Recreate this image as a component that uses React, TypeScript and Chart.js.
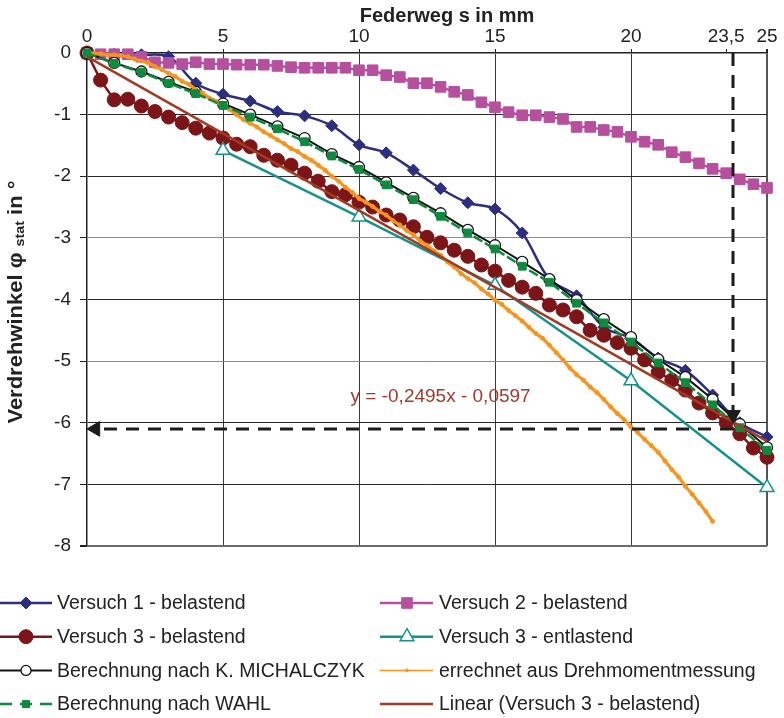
import React, { useEffect, useRef } from 'react';
import { Chart, registerables } from 'chart.js';
Chart.register(...registerables);

const FONT = "'Liberation Sans', Arial, Helvetica, sans-serif";

// ---------- categories / x positions (Federweg s in mm) ----------
const sStep1 = [0, 1, 2, 3, 4, 5, 6, 7, 8, 9, 10, 11, 12, 13, 14, 15, 16, 17, 18, 19, 20, 21, 22, 23, 24, 25];
const sStep05 = [0, 0.5, 1, 1.5, 2, 2.5, 3, 3.5, 4, 4.5, 5, 5.5, 6, 6.5, 7, 7.5, 8, 8.5, 9, 9.5, 10, 10.5, 11, 11.5, 12, 12.5,
  13, 13.5, 14, 14.5, 15, 15.5, 16, 16.5, 17, 17.5, 18, 18.5, 19, 19.5, 20, 20.5, 21, 21.5, 22, 22.5, 23, 23.5, 24, 24.5, 25];
const sUnload = [5, 10, 15, 20, 25];
const sTorque = [0, 0.25, 0.5, 0.75, 1, 1.25, 1.5, 1.75, 2, 2.25, 2.5, 2.75, 3, 3.25, 3.5, 3.75, 4, 4.25, 4.5, 4.75,
  5, 5.25, 5.5, 5.75, 6, 6.25, 6.5, 6.75, 7, 7.25, 7.5, 7.75, 8, 8.25, 8.5, 8.75, 9, 9.25, 9.5, 9.75,
  10, 10.25, 10.5, 10.75, 11, 11.25, 11.5, 11.75, 12, 12.25, 12.5, 12.75, 13, 13.25, 13.5, 13.75, 14, 14.25, 14.5, 14.75,
  15, 15.25, 15.5, 15.75, 16, 16.25, 16.5, 16.75, 17, 17.25, 17.5, 17.75, 18, 18.25, 18.5, 18.75, 19, 19.25, 19.5, 19.75,
  20, 20.25, 20.5, 20.75, 21, 21.25, 21.5, 21.75, 22, 22.25, 22.5, 22.75, 23];
const sTrend = [0, 25];

// ---------- tick labels ----------
const xTickValues = [0, 5, 10, 15, 20, 23.5, 25];
const yTickValues = [0, -1, -2, -3, -4, -5, -6, -7, -8];

// ---------- series values (Verdrehwinkel in °) ----------
const versuch1 = [0, -0.02, -0.03, -0.06, -0.49, -0.67, -0.78, -0.95, -1.02, -1.18, -1.49, -1.62, -1.9, -2.2, -2.43, -2.53,
  -2.92, -3.67, -3.94, -4.45, -4.63, -4.95, -5.15, -5.55, -6.0, -6.23];
const versuch2 = [0, -0.02, -0.02, -0.02, -0.06, -0.15, -0.16, -0.18, -0.15, -0.18, -0.18, -0.19, -0.19, -0.19, -0.21, -0.23,
  -0.24, -0.24, -0.24, -0.24, -0.28, -0.28, -0.36, -0.39, -0.49, -0.49, -0.55, -0.63, -0.68, -0.8, -0.88, -0.96, -1.01, -1.01,
  -1.04, -1.07, -1.2, -1.2, -1.25, -1.28, -1.36, -1.44, -1.49, -1.61, -1.69, -1.79, -1.88, -1.95, -2.05, -2.13, -2.19];
const versuch3Load = [0, -0.44, -0.76, -0.75, -0.86, -0.95, -1.04, -1.13, -1.22, -1.3, -1.38, -1.48, -1.52, -1.66, -1.74, -1.82,
  -1.95, -2.08, -2.25, -2.3, -2.42, -2.5, -2.63, -2.71, -2.82, -2.99, -3.08, -3.2, -3.3, -3.44, -3.54, -3.69, -3.8, -3.9,
  -4.09, -4.17, -4.28, -4.5, -4.58, -4.7, -4.79, -4.98, -5.18, -5.31, -5.47, -5.68, -5.84, -6.0, -6.18, -6.41, -6.56];
const versuch3Unload = [-1.58, -2.66, -3.77, -5.32, -7.05];
const michalczyk = [0, -0.16, -0.3, -0.47, -0.63, -0.82, -1.0, -1.19, -1.38, -1.64, -1.85, -2.1, -2.35, -2.6, -2.87, -3.12,
  -3.39, -3.67, -4.01, -4.32, -4.61, -4.97, -5.26, -5.62, -6.02, -6.4];
const torque = [0, -0.01, -0.01, -0.03, -0.03, -0.04, -0.06, -0.1, -0.13, -0.16, -0.22, -0.27, -0.33, -0.38, -0.46, -0.51,
  -0.59, -0.65, -0.73, -0.79, -0.87, -0.92, -1.0, -1.08, -1.14, -1.2, -1.28, -1.34, -1.41, -1.47, -1.55, -1.6, -1.68, -1.74,
  -1.82, -1.9, -2.0, -2.08, -2.18, -2.26, -2.36, -2.42, -2.49, -2.57, -2.63, -2.72, -2.79, -2.88, -2.95, -3.05, -3.12, -3.21,
  -3.28, -3.39, -3.47, -3.58, -3.66, -3.73, -3.83, -3.91, -4.01, -4.08, -4.18, -4.26, -4.35, -4.45, -4.55, -4.63, -4.74,
  -4.86, -4.98, -5.11, -5.22, -5.31, -5.42, -5.51, -5.62, -5.74, -5.85, -5.95, -6.07, -6.16, -6.27, -6.37, -6.48, -6.62,
  -6.76, -6.88, -7.03, -7.16, -7.3, -7.44, -7.6];
const wahl = [0, -0.17, -0.31, -0.49, -0.66, -0.85, -1.04, -1.23, -1.44, -1.67, -1.89, -2.14, -2.38, -2.65, -2.92, -3.18,
  -3.46, -3.72, -4.06, -4.38, -4.69, -5.03, -5.35, -5.71, -6.08, -6.45];
const trendSlope = -0.2495;
const trendIntercept = -0.0597;

// annotation (dashed guide lines with arrows)
const guideX = [23.75, 0.31];
const guideHY = [-6.1, -6.1];
const guideVX = [23.75, 23.75];
const guideVY = [0, -5.87];

const seriesNames = [
  'Versuch 1 - belastend',
  'Versuch 2 - belastend',
  'Versuch 3 - belastend',
  'Versuch 3 - entlastend',
  'Berechnung nach K. MICHALCZYK',
  'errechnet aus Drehmomentmessung',
  'Berechnung nach WAHL',
  'Linear (Versuch 3 - belastend)',
];
const equationText = 'y = -0,2495x - 0,0597';

const pts = (xs: number[], ys: number[]) => xs.map((x, i) => ({ x, y: ys[i] }));

function drawMarker(ctx: CanvasRenderingContext2D, style: string, x: number, y: number, r: number, fill: string, stroke: string, lw: number) {
  if (!style || r <= 0) return;
  ctx.save();
  ctx.setLineDash([]);
  ctx.beginPath();
  if (style === 'circle') {
    ctx.arc(x, y, r, 0, Math.PI * 2);
  } else if (style === 'rect') {
    const s = r * Math.SQRT1_2;
    ctx.rect(x - s, y - s, 2 * s, 2 * s);
  } else if (style === 'rectRot') {
    ctx.moveTo(x, y - r); ctx.lineTo(x + r, y); ctx.lineTo(x, y + r); ctx.lineTo(x - r, y); ctx.closePath();
  } else if (style === 'triangle') {
    let a = 0;
    ctx.moveTo(x + Math.sin(a) * r, y - Math.cos(a) * r);
    a += (2 * Math.PI) / 3;
    ctx.lineTo(x + Math.sin(a) * r, y - Math.cos(a) * r);
    a += (2 * Math.PI) / 3;
    ctx.lineTo(x + Math.sin(a) * r, y - Math.cos(a) * r);
    ctx.closePath();
  }
  ctx.fillStyle = fill;
  ctx.fill();
  ctx.lineWidth = lw;
  ctx.strokeStyle = stroke;
  ctx.stroke();
  ctx.restore();
}

const legendMarkerSize = [6, 7.5, 7, 8, 5, 1.5, 5, 0];
const legendLineWidth = [2.5, 2.5, 2.5, 2.5, 2, 1.5, 2.5, 2.5];

const extrasPlugin = {
  id: 'extras',
  afterDatasetsDraw(chart: any) {
    const ctx: CanvasRenderingContext2D = chart.ctx;
    const xs = chart.scales.x;
    const ys = chart.scales.y;
    ctx.save();
    ctx.font = '19px ' + FONT;
    ctx.fillStyle = '#A3392B';
    ctx.textAlign = 'center';
    ctx.textBaseline = 'middle';
    ctx.fillText(equationText, xs.getPixelForValue(13.0), ys.getPixelForValue(-5.58));
    ctx.restore();
  },
  afterDraw(chart: any) {
    const ctx: CanvasRenderingContext2D = chart.ctx;
    ctx.save();
    ctx.font = 'bold 20px ' + FONT;
    ctx.fillStyle = '#222';
    ctx.textAlign = 'center';
    ctx.textBaseline = 'middle';
    ctx.fillText('Federweg s in mm', 447, 16);
    ctx.restore();

    ctx.save();
    ctx.translate(16, 302);
    ctx.rotate(-Math.PI / 2);
    ctx.scale(1.1, 1);
    const main = 'bold 20px ' + FONT;
    const sub = 'bold 13px ' + FONT;
    const p1 = 'Verdrehwinkel φ ';
    const p2 = 'stat';
    const p3 = ' in °';
    ctx.font = main;
    const w1 = ctx.measureText(p1).width;
    const w3 = ctx.measureText(p3).width;
    ctx.font = sub;
    const w2 = ctx.measureText(p2).width;
    let x = -(w1 + w2 + w3) / 2;
    ctx.textBaseline = 'middle';
    ctx.fillStyle = '#222';
    ctx.font = main; ctx.fillText(p1, x, 0); x += w1;
    ctx.font = sub; ctx.fillText(p2, x, 4); x += w2;
    ctx.font = main; ctx.fillText(p3, x, 0);
    ctx.restore();

    const cols = [
      { l0: 0, l1: 52, m: 26, t: 57 },
      { l0: 380, l1: 433, m: 407, t: 439 },
    ];
    for (let i = 0; i < seriesNames.length; i++) {
      const ds = chart.data.datasets[i];
      const c = cols[i % 2];
      const y = 603 + Math.floor(i / 2) * 33.7;
      ctx.save();
      ctx.strokeStyle = ds.borderColor;
      ctx.lineWidth = legendLineWidth[i];
      ctx.setLineDash(ds.borderDash ? [12, 8] : []);
      ctx.beginPath();
      ctx.moveTo(c.l0, y);
      ctx.lineTo(c.l1, y);
      ctx.stroke();
      ctx.restore();
      drawMarker(ctx, ds.pointStyle, c.m, y, legendMarkerSize[i], ds.pointBackgroundColor, ds.pointBorderColor, ds.pointBorderWidth);
      ctx.save();
      ctx.font = '19.5px ' + FONT;
      ctx.fillStyle = '#222';
      ctx.textBaseline = 'middle';
      ctx.fillText(ds.label, c.t, y + 1);
      ctx.restore();
    }
  },
};

export default function App() {
  const ref = useRef<HTMLCanvasElement | null>(null);
  useEffect(() => {
    if (!ref.current) return;
    const navy = '#2C2F80';
    const magenta = '#B6509E';
    const red = '#7C1518';
    const teal = '#16918B';
    const black = '#141414';
    const orange = '#F7941D';
    const green = '#0D8A3E';
    const brown = '#A23A24';
    const guide = '#1c1c1c';

    const datasets: any[] = [
      {
        label: seriesNames[0], data: pts(sStep1, versuch1), borderColor: navy, borderWidth: 2.5, tension: 0.35,
        pointStyle: 'rectRot', pointRadius: 6, pointBackgroundColor: navy, pointBorderColor: navy, pointBorderWidth: 1,
      },
      {
        label: seriesNames[1], data: pts(sStep05, versuch2), borderColor: magenta, borderWidth: 2.5,
        pointStyle: 'rect', pointRadius: 7.5, pointBackgroundColor: magenta, pointBorderColor: magenta, pointBorderWidth: 1,
      },
      {
        label: seriesNames[2], data: pts(sStep05, versuch3Load), borderColor: red, borderWidth: 2.5,
        pointStyle: 'circle', pointRadius: 7, pointBackgroundColor: red, pointBorderColor: red, pointBorderWidth: 1,
      },
      {
        label: seriesNames[3], data: pts(sUnload, versuch3Unload), borderColor: teal, borderWidth: 2.5,
        pointStyle: 'triangle', pointRadius: 8, pointBackgroundColor: '#ffffff', pointBorderColor: teal, pointBorderWidth: 1.5,
      },
      {
        label: seriesNames[4], data: pts(sStep1, michalczyk), borderColor: black, borderWidth: 2,
        pointStyle: 'circle', pointRadius: 5.5, pointBackgroundColor: '#ffffff', pointBorderColor: black, pointBorderWidth: 1.3,
      },
      {
        label: seriesNames[5], data: pts(sTorque, torque), borderColor: orange, borderWidth: 3.2,
        pointStyle: 'circle', pointRadius: 2, pointBackgroundColor: orange, pointBorderColor: orange, pointBorderWidth: 1,
      },
      {
        label: seriesNames[6], data: pts(sStep1, wahl), borderColor: green, borderWidth: 2.5, borderDash: [10, 3],
        pointStyle: 'rect', pointRadius: 5.5, pointBackgroundColor: green, pointBorderColor: green, pointBorderWidth: 1,
      },
      {
        label: seriesNames[7], data: pts(sTrend, sTrend.map((x) => trendSlope * x + trendIntercept)), borderColor: brown,
        borderWidth: 2.5, pointRadius: 0, pointStyle: false, pointBackgroundColor: brown, pointBorderColor: brown, pointBorderWidth: 0,
      },
      {
        label: 'guideH', data: pts(guideX, guideHY), borderColor: guide, borderWidth: 3, borderDash: [13, 9],
        pointStyle: 'triangle', pointRadius: [0, 8.5], pointRotation: 270, pointBackgroundColor: guide, pointBorderColor: guide, pointBorderWidth: 1,
      },
      {
        label: 'guideV', data: pts(guideVX, guideVY), borderColor: guide, borderWidth: 3, borderDash: [13, 9],
        pointStyle: 'triangle', pointRadius: [0, 8.5], pointRotation: 180, pointBackgroundColor: guide, pointBorderColor: guide, pointBorderWidth: 1,
      },
    ];
    datasets.forEach((d, i) => {
      d.order = 20 - i;
      d.clip = 14;
      d.fill = false;
      if (d.tension === undefined) d.tension = 0;
      d.pointHoverRadius = d.pointRadius;
    });

    const chart = new Chart(ref.current, {
      type: 'line',
      data: { datasets },
      options: {
        animation: false,
        responsive: false,
        devicePixelRatio: 1,
        events: [],
        layout: { padding: { left: 0, top: 0, right: 17, bottom: 172 } },
        plugins: { legend: { display: false }, tooltip: { enabled: false }, title: { display: false } },
        scales: {
          x: {
            type: 'linear',
            position: 'top',
            min: 0,
            max: 25,
            afterBuildTicks: (s: any) => { s.ticks = xTickValues.map((v) => ({ value: v })); },
            afterFit: (s: any) => { s.height = 53; },
            ticks: {
              autoSkip: false,
              maxRotation: 0,
              padding: 1,
              color: '#222',
              font: { family: FONT, size: 19 },
              callback: (v: any) => String(v).replace('.', ','),
            },
            grid: {
              drawTicks: true,
              tickLength: 4,
              tickColor: '#222',
              color: (c: any) => {
                const v = c.tick ? c.tick.value : null;
                if (v === 23.5 || v === 0) return 'rgba(0,0,0,0)';
                if (v === 25) return '#555';
                return '#3a3a3a';
              },
              lineWidth: (c: any) => (c.tick && c.tick.value === 25 ? 2 : 1),
            },
            border: { display: true, color: '#222', width: 1.5 },
          },
          y: {
            type: 'linear',
            position: 'left',
            min: -8,
            max: 0,
            afterBuildTicks: (s: any) => { s.ticks = yTickValues.map((v) => ({ value: v })); },
            afterFit: (s: any) => { s.width = 87; },
            ticks: {
              padding: 9,
              color: '#222',
              font: { family: FONT, size: 19 },
              callback: (v: any) => String(v),
            },
            grid: {
              drawTicks: true,
              tickLength: 7,
              tickColor: '#222',
              color: (c: any) => {
                const v = c.tick ? c.tick.value : null;
                if (v === 0) return 'rgba(0,0,0,0)';
                if (v === -3 || v === -5) return '#8c8c8c';
                if (v === -8) return '#6a6a6a';
                return '#2a2a2a';
              },
              lineWidth: (c: any) => (c.tick && c.tick.value === -8 ? 2 : 1),
            },
            border: { display: true, color: '#222', width: 1.5 },
          },
        },
      },
      plugins: [extrasPlugin],
    } as any);
    return () => chart.destroy();
  }, []);

  return (
    <div style={{ position: 'absolute', left: 0, top: 0, width: 784, height: 718, background: '#fff' }}>
      <canvas ref={ref} width={784} height={718} style={{ width: 784, height: 718, display: 'block' }} />
    </div>
  );
}
